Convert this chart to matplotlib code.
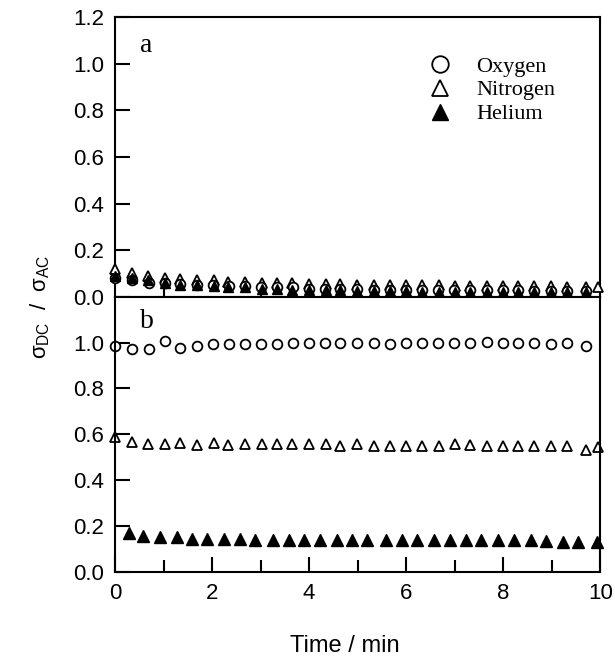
import numpy as np
import matplotlib
matplotlib.use("Agg")
import matplotlib.pyplot as plt

# panel b data (steady state)
t_oxy = [0, 0.34, 0.71, 1.03, 1.34, 1.69, 2.02, 2.34, 2.67, 3.01, 3.34, 3.66, 3.99, 4.32, 4.63,
         4.98, 5.34, 5.67, 5.99, 6.32, 6.65, 6.98, 7.32, 7.66, 7.99, 8.31, 8.64, 8.99, 9.32, 9.70]
oxy_b = [0.983, 0.971, 0.971, 1.007, 0.978, 0.984, 0.993, 0.993, 0.993, 0.993, 0.993, 1.0, 1.0, 1.0, 1.0,
         1.0, 0.997, 0.993, 1.0, 1.0, 1.0, 1.0, 1.0, 1.004, 1.0, 1.0, 1.0, 0.993, 1.0, 0.983]

t_nit = [0, 0.34, 0.69, 1.03, 1.34, 1.69, 2.03, 2.33, 2.67, 3.03, 3.34, 3.65, 3.99, 4.34, 4.63,
         4.98, 5.34, 5.67, 5.99, 6.32, 6.68, 7.0, 7.32, 7.67, 7.99, 8.31, 8.64, 8.99, 9.32, 9.70, 9.95]
nit_b = [0.587, 0.565, 0.558, 0.558, 0.561, 0.555, 0.562, 0.555, 0.558, 0.558, 0.558, 0.558, 0.558, 0.558, 0.551,
         0.558, 0.551, 0.551, 0.551, 0.551, 0.551, 0.558, 0.555, 0.551, 0.551, 0.551, 0.551, 0.551, 0.551, 0.532, 0.546]

t_hel = [0.28, 0.57, 0.93, 1.27, 1.58, 1.89, 2.25, 2.58, 2.89, 3.25, 3.58, 3.90, 4.22, 4.57, 4.89,
         5.20, 5.58, 5.92, 6.23, 6.58, 6.91, 7.23, 7.54, 7.89, 8.23, 8.57, 8.88, 9.23, 9.55, 9.94]
hel_b = [0.171, 0.157, 0.152, 0.152, 0.145, 0.145, 0.145, 0.145, 0.138, 0.138, 0.138, 0.138, 0.138, 0.138, 0.138,
         0.138, 0.138, 0.138, 0.138, 0.138, 0.138, 0.138, 0.138, 0.138, 0.138, 0.138, 0.134, 0.130, 0.130, 0.130]

# panel a data (decay)
oxy_a = [0.08, 0.07, 0.06, 0.06, 0.055, 0.05, 0.05, 0.045, 0.045, 0.04, 0.04, 0.04, 0.035, 0.035, 0.035,
         0.035, 0.03, 0.03, 0.03, 0.03, 0.03, 0.03, 0.03, 0.028, 0.028, 0.028, 0.025, 0.025, 0.025, 0.025]
nit_a = [0.12, 0.10, 0.09, 0.08, 0.075, 0.07, 0.07, 0.065, 0.065, 0.06, 0.06, 0.06, 0.055, 0.055, 0.055,
         0.05, 0.05, 0.05, 0.05, 0.05, 0.05, 0.045, 0.045, 0.045, 0.045, 0.045, 0.045, 0.045, 0.04, 0.04, 0.04]
t_hel_a = [0, 0.34, 0.69, 1.03, 1.34, 1.69, 2.03, 2.33, 2.67, 3.03, 3.34, 3.65, 3.99, 4.34, 4.63,
           4.98, 5.34, 5.67, 5.99, 6.32, 6.68, 7.0, 7.32, 7.67, 7.99, 8.31, 8.64, 8.99, 9.32, 9.70]
hel_a = [0.09, 0.08, 0.07, 0.06, 0.05, 0.05, 0.045, 0.04, 0.04, 0.035, 0.035, 0.03, 0.03, 0.03, 0.03,
         0.025, 0.025, 0.025, 0.025, 0.022, 0.022, 0.022, 0.02, 0.02, 0.02, 0.02, 0.02, 0.02, 0.02, 0.02]

yticks = [0.0, 0.2, 0.4, 0.6, 0.8, 1.0, 1.2]

plt.rcParams['font.family'] = ['Liberation Sans', 'DejaVu Sans']
plt.rcParams['mathtext.fontset'] = 'custom'
plt.rcParams['mathtext.rm'] = 'Liberation Sans'
plt.rcParams['mathtext.it'] = 'Liberation Sans'

fig = plt.figure(figsize=(6.15, 6.58), dpi=100)
axa = fig.add_axes([0.187, 0.549, 0.789, 0.425])
axb = fig.add_axes([0.187, 0.131, 0.789, 0.418], sharex=axa)

ms = 7
mew = 1.3
for ax in (axa, axb):
    ax.set_xlim(0, 10)
    ax.set_ylim(0, 1.2)
    ax.tick_params(direction='in', length=11, width=1.5, labelsize=16, pad=8, right=False, top=False)
    ax.tick_params(which='minor', direction='in', length=8.5, width=1.5)
    for s in ax.spines.values():
        s.set_linewidth(1.5)

axa.set_yticks(yticks)
axa.set_yticklabels(['%.1f' % v for v in yticks])
axa.tick_params(axis='x', bottom=False, labelbottom=False)
axb.set_yticks(yticks[:-1])
axb.set_yticklabels(['%.1f' % v for v in yticks[:-1]])
axb.set_xticks([0, 2, 4, 6, 8, 10])
axb.set_xticks([1, 3, 5, 7, 9], minor=True)

axa.plot(t_nit, nit_a, '^', ms=ms, mfc='white', mec='black', mew=mew, label='Nitrogen', zorder=3, clip_on=False)
axa.plot(t_oxy, oxy_a, 'o', ms=ms, mfc='white', mec='black', mew=mew, label='Oxygen', zorder=4, clip_on=False)
axa.plot(t_hel_a, hel_a, '^', ms=ms, mfc='black', mec='black', label='Helium', zorder=5, clip_on=False)

axb.plot(t_oxy, oxy_b, 'o', ms=ms, mfc='white', mec='black', mew=mew, clip_on=False)
axb.plot(t_nit, nit_b, '^', ms=ms, mfc='white', mec='black', mew=mew, clip_on=False)
axb.plot(t_hel, hel_b, '^', ms=ms + 1, mfc='black', mec='black', clip_on=False)

h, l = axa.get_legend_handles_labels()
order = [1, 0, 2]
leg = axa.legend([h[i] for i in order], [l[i] for i in order], loc='upper left',
                 bbox_to_anchor=(0.625, 0.861), frameon=False, handletextpad=0.6,
                 borderpad=0, borderaxespad=0, labelspacing=0.15,
                 prop={'family': 'Liberation Serif', 'size': 16}, markerscale=1.7)

axa.text(0.52, 1.05, 'a', fontsize=20, family='Liberation Serif', va='baseline')
axb.text(0.52, 1.065, 'b', fontsize=20, family='Liberation Serif', va='baseline')

fig.text(0.065, 0.533, r'$\sigma_{\rm DC}$  /  $\sigma_{\rm AC}$', rotation=90, fontsize=16,
         ha='center', va='center')
fig.text(0.561, 0.018, 'Time / min', fontsize=17, ha='center', va='center')

fig.savefig('out.png', dpi=100)
